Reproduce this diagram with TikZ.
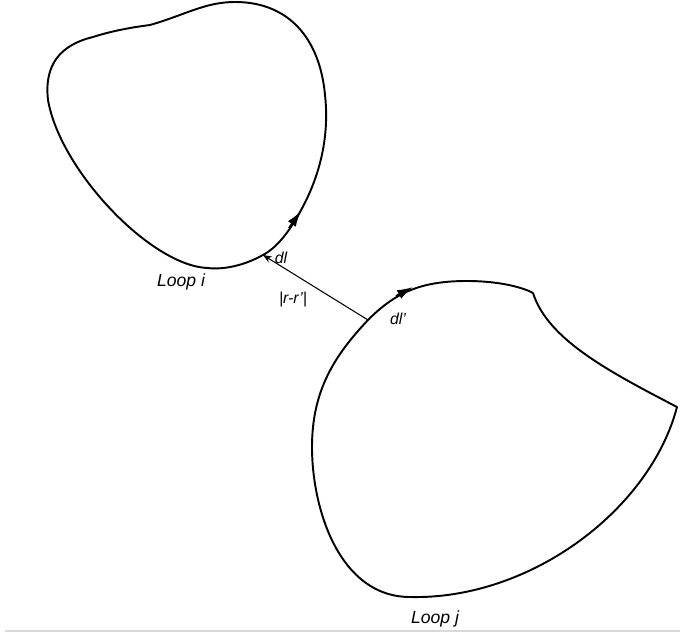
\documentclass[tikz,border=0pt]{standalone}
\usepackage{fontspec}
\setmainfont{Liberation Sans}
\usetikzlibrary{arrows.meta}
\tikzset{
  loop/.style={line width=1.1pt, line join=round},
  flow/.style={line width=1.1pt, -{Latex[length=9pt, width=5.5pt]}},
  lbl/.style={font=\itshape\small, inner sep=1pt},
  sep/.style={line width=0.6pt, -{Stealth[length=5pt, width=4pt]}}
}
\begin{document}
\begin{tikzpicture}[x=0.02cm, y=-0.02cm]
  \useasboundingbox (0,0) rectangle (680,634);
  % Coordinates
  \coordinate (dl) at (263,255);
  \coordinate (dlp) at (368,320);
  \coordinate (KI) at (150,25);
  \coordinate (KJ) at (533,293);
  \coordinate (KR) at (677,407);

  % Drawing
  \draw[loop] (KI) .. controls (185,15) and (205,2) .. (235,2)
    .. controls (290,2) and (320,40) .. (325,95)
    .. controls (330,140) and (318,180) .. (300,212)
    .. controls (290,230) and (278,247) .. (dl)
    .. controls (245,265) and (225,270) .. (207,268)
    .. controls (150,265) and (60,170) .. (48,100)
    .. controls (44,65) and (60,45) .. (93,37)
    .. controls (115,30) and (135,27) .. (KI);
  \draw[loop] (KJ) .. controls (548,340) and (610,372) .. (KR)
    .. controls (650,510) and (530,600) .. (410,597)
    .. controls (340,597) and (312,510) .. (312,447)
    .. controls (312,390) and (335,355) .. (dlp)
    .. controls (395,293) and (420,281) .. (467,281)
    .. controls (495,281) and (520,286) .. (KJ);
  \draw[flow] (289,228) -- (301,211);
  \draw[flow] (396,296) -- (413,287);
  \draw[sep] (dlp) -- (dl);
  \node[lbl] (dllbl) at (281,258) {dl};
  \node[lbl] (rlbl) at (293,300) {|r-r'|};
  \node[lbl] (dlplbl) at (398,319) {dl'};
  \node[lbl, font=\itshape] (loopi) at (181,282) {Loop i};
  \node[lbl, font=\itshape] (loopj) at (435,619) {Loop j};
  \draw[black!15, line width=0.8pt] (5,631) -- (680,631);
\end{tikzpicture}
\end{document}
